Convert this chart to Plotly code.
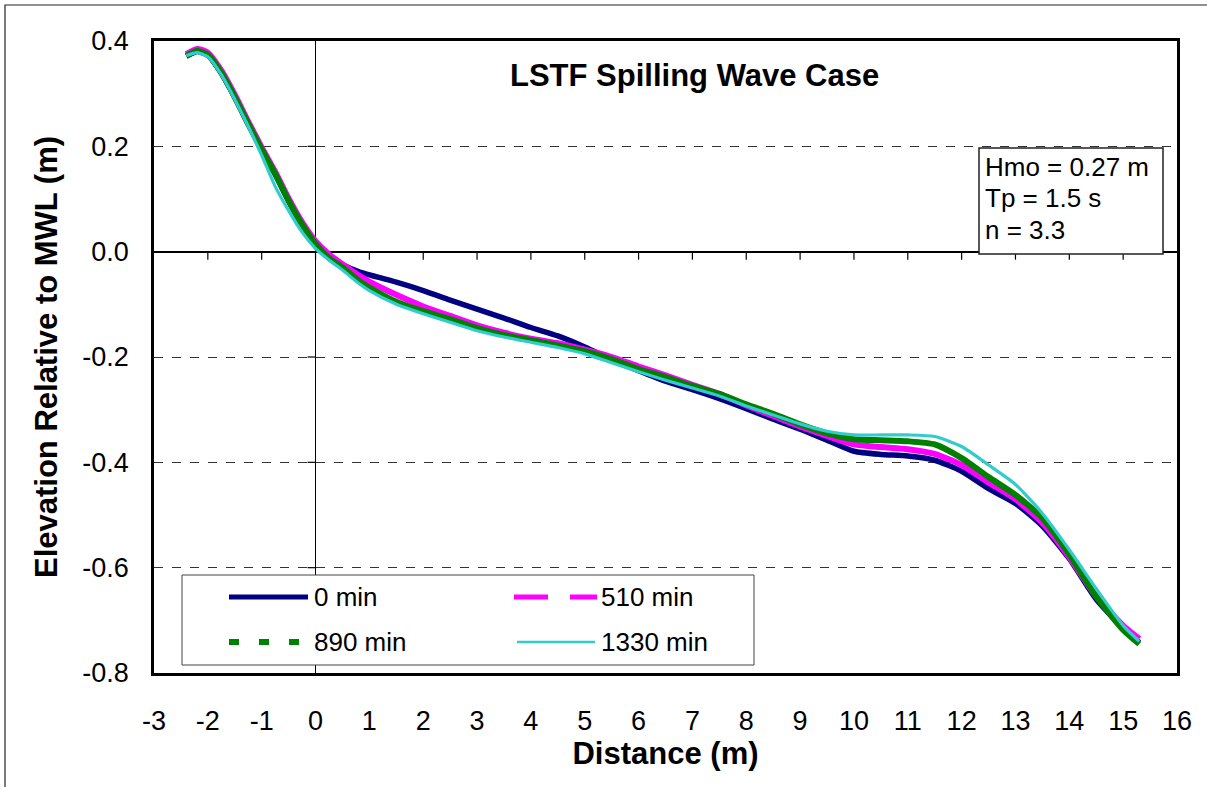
import plotly.graph_objects as go

# ---------------- data ----------------
distance = [-2.4, -2.2, -2.0, -1.75, -1.5, -1.25, -1.0, -0.75, -0.5, -0.25, 0.0, 0.25, 0.5, 0.8, 1.0,
            1.5, 2.0, 2.5, 3.0, 3.5, 4.0, 4.5, 5.0, 5.5, 6.0, 6.5, 7.0, 7.5, 8.0, 8.5, 9.0, 9.5,
            10.0, 10.5, 11.0, 11.5, 12.0, 12.5, 13.0, 13.5, 14.0, 14.5, 15.0, 15.3]

elev_0 = [0.371, 0.380, 0.373, 0.339, 0.293, 0.242, 0.193, 0.147, 0.096, 0.051, 0.015, -0.010, -0.025,
          -0.038, -0.044, -0.058, -0.074, -0.092, -0.109, -0.126, -0.144, -0.160, -0.181, -0.205,
          -0.226, -0.246, -0.262, -0.279, -0.298, -0.318, -0.337, -0.358, -0.379, -0.385, -0.388,
          -0.396, -0.417, -0.450, -0.478, -0.521, -0.583, -0.660, -0.715, -0.742]

elev_510 = [0.375, 0.385, 0.378, 0.344, 0.298, 0.247, 0.198, 0.152, 0.101, 0.056, 0.020, -0.005, -0.024,
            -0.045, -0.057, -0.082, -0.104, -0.122, -0.140, -0.154, -0.165, -0.174, -0.186, -0.200,
            -0.218, -0.235, -0.253, -0.270, -0.292, -0.312, -0.332, -0.350, -0.366, -0.371, -0.375,
            -0.384, -0.405, -0.438, -0.470, -0.515, -0.580, -0.655, -0.710, -0.735]

elev_890 = [0.372, 0.381, 0.374, 0.340, 0.294, 0.243, 0.194, 0.148, 0.097, 0.052, 0.015, -0.012, -0.030,
            -0.055, -0.068, -0.095, -0.113, -0.128, -0.145, -0.158, -0.168, -0.178, -0.189, -0.204,
            -0.223, -0.238, -0.255, -0.270, -0.290, -0.308, -0.328, -0.345, -0.356, -0.358, -0.360,
            -0.366, -0.392, -0.428, -0.462, -0.506, -0.575, -0.655, -0.718, -0.745]

elev_1330 = [0.372, 0.378, 0.370, 0.336, 0.289, 0.238, 0.183, 0.124, 0.078, 0.037, 0.006, -0.016, -0.035,
             -0.060, -0.074, -0.100, -0.118, -0.134, -0.150, -0.162, -0.172, -0.182, -0.194, -0.211,
             -0.228, -0.244, -0.259, -0.274, -0.293, -0.310, -0.327, -0.341, -0.348, -0.348, -0.348,
             -0.351, -0.370, -0.405, -0.442, -0.497, -0.566, -0.640, -0.710, -0.740]

series_names = ["0 min", "510 min", "890 min", "1330 min"]
series_values = [elev_0, elev_510, elev_890, elev_1330]
series_colors = ["#000080", "#FF00FF", "#008000", "#33CCCC"]
series_widths = [5.5, 6, 6, 3.2]
legend_dash = ["solid", "34px,22px", "10px,20px", "solid"]
legend_width = [5, 5, 6, 2.5]

x_ticks = list(range(-3, 17))
y_ticks = [0.4, 0.2, 0.0, -0.2, -0.4, -0.6, -0.8]
y_tick_text = ["0.4", "0.2", "0.0", "-0.2", "-0.4", "-0.6", "-0.8"]

title_text = "LSTF Spilling Wave Case"
info_lines = ["Hmo = 0.27 m", "Tp = 1.5 s", "n = 3.3"]

# ---------------- layout geometry ----------------
W, H = 1207, 787
L, R, T, B = 154, 1177, 41, 673
FONT = "Liberation Sans, Arial, sans-serif"


def px(xp):
    return (xp - L) / (R - L)


def py(yp):
    return (B - yp) / (B - T)


fig = go.Figure()
for name, vals, col, w in zip(series_names, series_values, series_colors, series_widths):
    fig.add_trace(go.Scatter(x=distance, y=vals, mode="lines", name=name,
                             line=dict(color=col, width=w, shape="spline", smoothing=0.6),
                             showlegend=False))

shapes = []
# tick marks on the y=0 axis line (pointing down)
for xv in x_ticks[1:-1]:
    shapes.append(dict(type="line", xref="x", yref="y", ysizemode="pixel", yanchor=0,
                       x0=xv, x1=xv, y0=0, y1=-8, line=dict(color="black", width=1.2)))
# tick marks on the x=0 axis line (pointing left)
for yv in y_ticks[1:-1]:
    shapes.append(dict(type="line", xref="x", yref="y", xsizemode="pixel", xanchor=0,
                       x0=0, x1=-8, y0=yv, y1=yv, line=dict(color="black", width=1.2)))

# info box
shapes.append(dict(type="rect", xref="paper", yref="paper", x0=px(979), x1=px(1163), y0=py(254), y1=py(148),
                   line=dict(color="#222", width=1.5), fillcolor="white", layer="above"))
# legend box
shapes.append(dict(type="rect", xref="paper", yref="paper", x0=px(182), x1=px(754), y0=py(665), y1=py(575),
                   line=dict(color="#444", width=1), fillcolor="white", layer="above"))
# outer chart frame
shapes.append(dict(type="rect", xref="paper", yref="paper", x0=px(5), x1=px(1215), y0=py(800), y1=py(5),
                   line=dict(color="#222", width=1.2), fillcolor="rgba(0,0,0,0)", layer="above"))

annotations = []
# legend samples and text
legend_pos = [(229, 308, 597), (514, 597, 597), (229, 300, 642), (517, 595, 642)]
legend_text_x = [312, 599, 312, 599]
for i, (x0, x1, yy) in enumerate(legend_pos):
    shapes.append(dict(type="line", xref="paper", yref="paper", x0=px(x0), x1=px(x1), y0=py(yy), y1=py(yy),
                       line=dict(color=series_colors[i], width=legend_width[i], dash=legend_dash[i]),
                       layer="above"))
    annotations.append(dict(x=px(legend_text_x[i]), y=py(yy), xref="paper", yref="paper",
                            text=series_names[i], showarrow=False, xanchor="left", yanchor="middle",
                            font=dict(family=FONT, size=26, color="black")))

# title
annotations.append(dict(x=px(694), y=py(76), xref="paper", yref="paper", text="<b>" + title_text + "</b>",
                        showarrow=False, xanchor="center", yanchor="middle",
                        font=dict(family=FONT, size=31, color="black")))
# info lines
for txt, yy in zip(info_lines, [167, 198, 230]):
    annotations.append(dict(x=px(983), y=py(yy), xref="paper", yref="paper", text=txt,
                            showarrow=False, xanchor="left", yanchor="middle",
                            font=dict(family=FONT, size=26, color="black")))

fig.update_layout(
    width=W, height=H,
    margin=dict(l=L, r=W - R, t=T, b=H - B, autoexpand=False),
    paper_bgcolor="white", plot_bgcolor="white",
    font=dict(family=FONT, color="black"),
    shapes=shapes, annotations=annotations,
    showlegend=False,
)
fig.update_xaxes(range=[-3, 16], tickmode="array", tickvals=x_ticks, ticktext=[str(v) for v in x_ticks],
                 showgrid=False, zeroline=True, zerolinecolor="black", zerolinewidth=1,
                 showline=True, mirror=True, linecolor="black", linewidth=2.5, ticks="",
                 ticklabelstandoff=22, tickfont=dict(family=FONT, size=27, color="black"),
                 title=dict(text="<b>Distance (m)</b>", font=dict(family=FONT, size=31, color="black"),
                            standoff=2))
fig.update_yaxes(range=[-0.8, 0.4], tickmode="array", tickvals=y_ticks, ticktext=y_tick_text,
                 showgrid=True, gridcolor="#333", gridwidth=1, griddash="dash",
                 zeroline=True, zerolinecolor="black", zerolinewidth=1.5,
                 showline=True, mirror=True, linecolor="black", linewidth=2.5, ticks="",
                 ticklabelstandoff=17, tickfont=dict(family=FONT, size=27, color="black"),
                 title=dict(text="<b>Elevation Relative to MWL (m)</b>",
                            font=dict(family=FONT, size=31, color="black"), standoff=16))

fig.write_html("out.html")
